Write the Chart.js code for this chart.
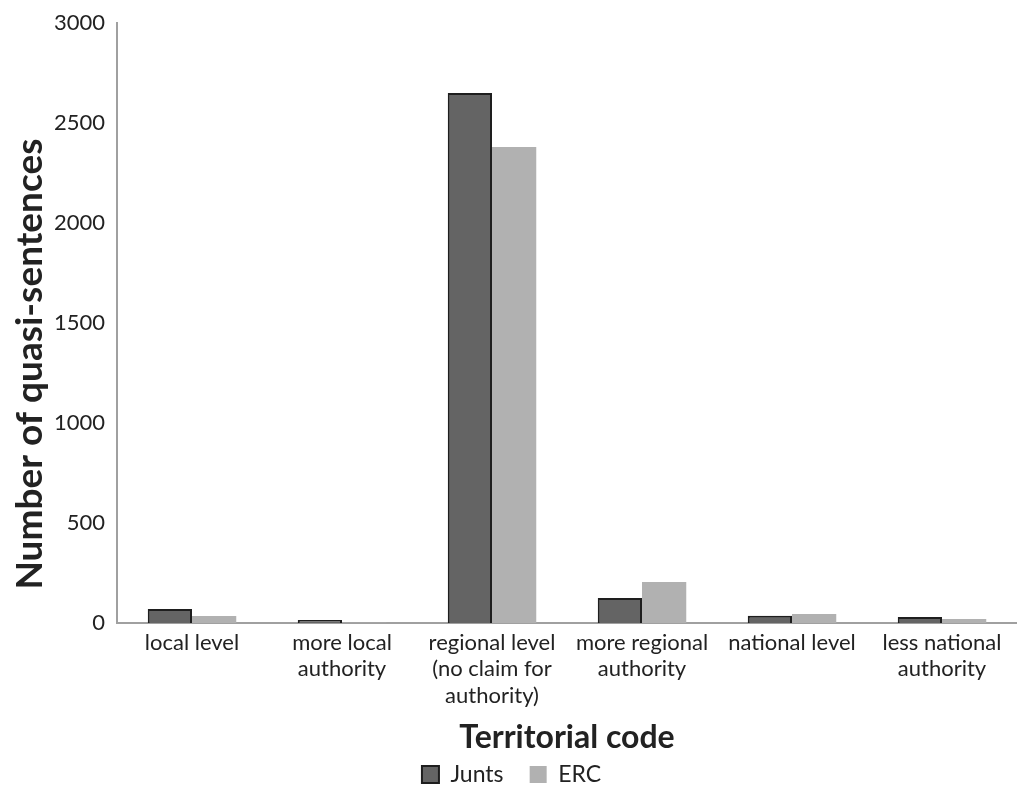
<!DOCTYPE html>
<html>
<head>
<meta charset="utf-8">
<script src="https://cdn.jsdelivr.net/npm/chart.js@4"></script>
<style>
  html, body { margin: 0; padding: 0; background: #fff; }
  #wrap { width: 1017px; height: 796px; }
</style>
</head>
<body>
<div id="wrap"><canvas id="chart"></canvas></div>
<script>
const categories = [
  'local level',
  ['more local', 'authority'],
  ['regional level', '(no claim for', 'authority)'],
  ['more regional', 'authority'],
  'national level',
  ['less national', 'authority']
];
const junts = [70, 15, 2650, 125, 37, 30];
const erc = [35, 2, 2380, 205, 45, 20];
const yTitle = 'Number of quasi-sentences';

const FONT = 'Lato, "Open Sans", sans-serif';
Chart.defaults.font.family = FONT;
Chart.defaults.color = '#222';

// vertical axis title, sitting a little below the middle of the value axis
const sideTitle = {
  id: 'sideTitle',
  afterDraw(chart) {
    const ctx = chart.ctx;
    const y = chart.scales.y;
    const mid = (y.top + y.bottom) / 2 + 41;
    ctx.save();
    ctx.translate(30, mid);
    ctx.rotate(-Math.PI / 2);
    ctx.font = 'bold 37px ' + FONT;
    ctx.fillStyle = '#222';
    ctx.textAlign = 'center';
    ctx.textBaseline = 'middle';
    ctx.fillText(yTitle, 0, 0);
    ctx.restore();
  }
};

new Chart(document.getElementById('chart'), {
  type: 'bar',
  data: {
    labels: categories,
    datasets: [{
      label: 'Junts',
      data: junts,
      backgroundColor: '#646464',
      borderColor: '#1e1e1e',
      borderWidth: 2,
      borderSkipped: 'bottom'
    }, {
      label: 'ERC',
      data: erc,
      backgroundColor: '#b1b1b1',
      borderWidth: 0
    }]
  },
  plugins: [sideTitle],
  options: {
    responsive: true,
    maintainAspectRatio: false,
    animation: false,
    categoryPercentage: 0.59,
    barPercentage: 1,
    layout: { padding: { top: 0, right: 0, left: 6, bottom: 0 } },
    scales: {
      x: {
        grid: { display: false, drawTicks: false },
        border: { color: '#a0a0a0', width: 2 },
        ticks: {
          font: { size: 22, lineHeight: 1.22 },
          padding: 6,
          maxRotation: 0,
          autoSkip: false
        },
        title: {
          display: true,
          text: 'Territorial code',
          font: { size: 32, weight: 'bold' },
          padding: { top: 3, bottom: 0 }
        }
      },
      y: {
        min: 0,
        max: 3000,
        ticks: {
          stepSize: 500,
          font: { size: 22, lineHeight: 1.0 },
          padding: 12,
          callback: v => String(v)
        },
        grid: { display: false, drawTicks: false },
        border: { color: '#a0a0a0', width: 2 },
        afterFit: function(scale) { scale.width = 111; }
      }
    },
    plugins: {
      legend: {
        position: 'bottom',
        labels: {
          font: { size: 23 },
          boxWidth: 17,
          boxHeight: 17,
          padding: 6,
          generateLabels: function(chart) {
            const items = Chart.defaults.plugins.legend.labels.generateLabels(chart);
            items[0].text = items[0].text + '\u2003\u2009';
            return items;
          }
        }
      },
      tooltip: { enabled: false }
    }
  }
});
</script>
</body>
</html>
